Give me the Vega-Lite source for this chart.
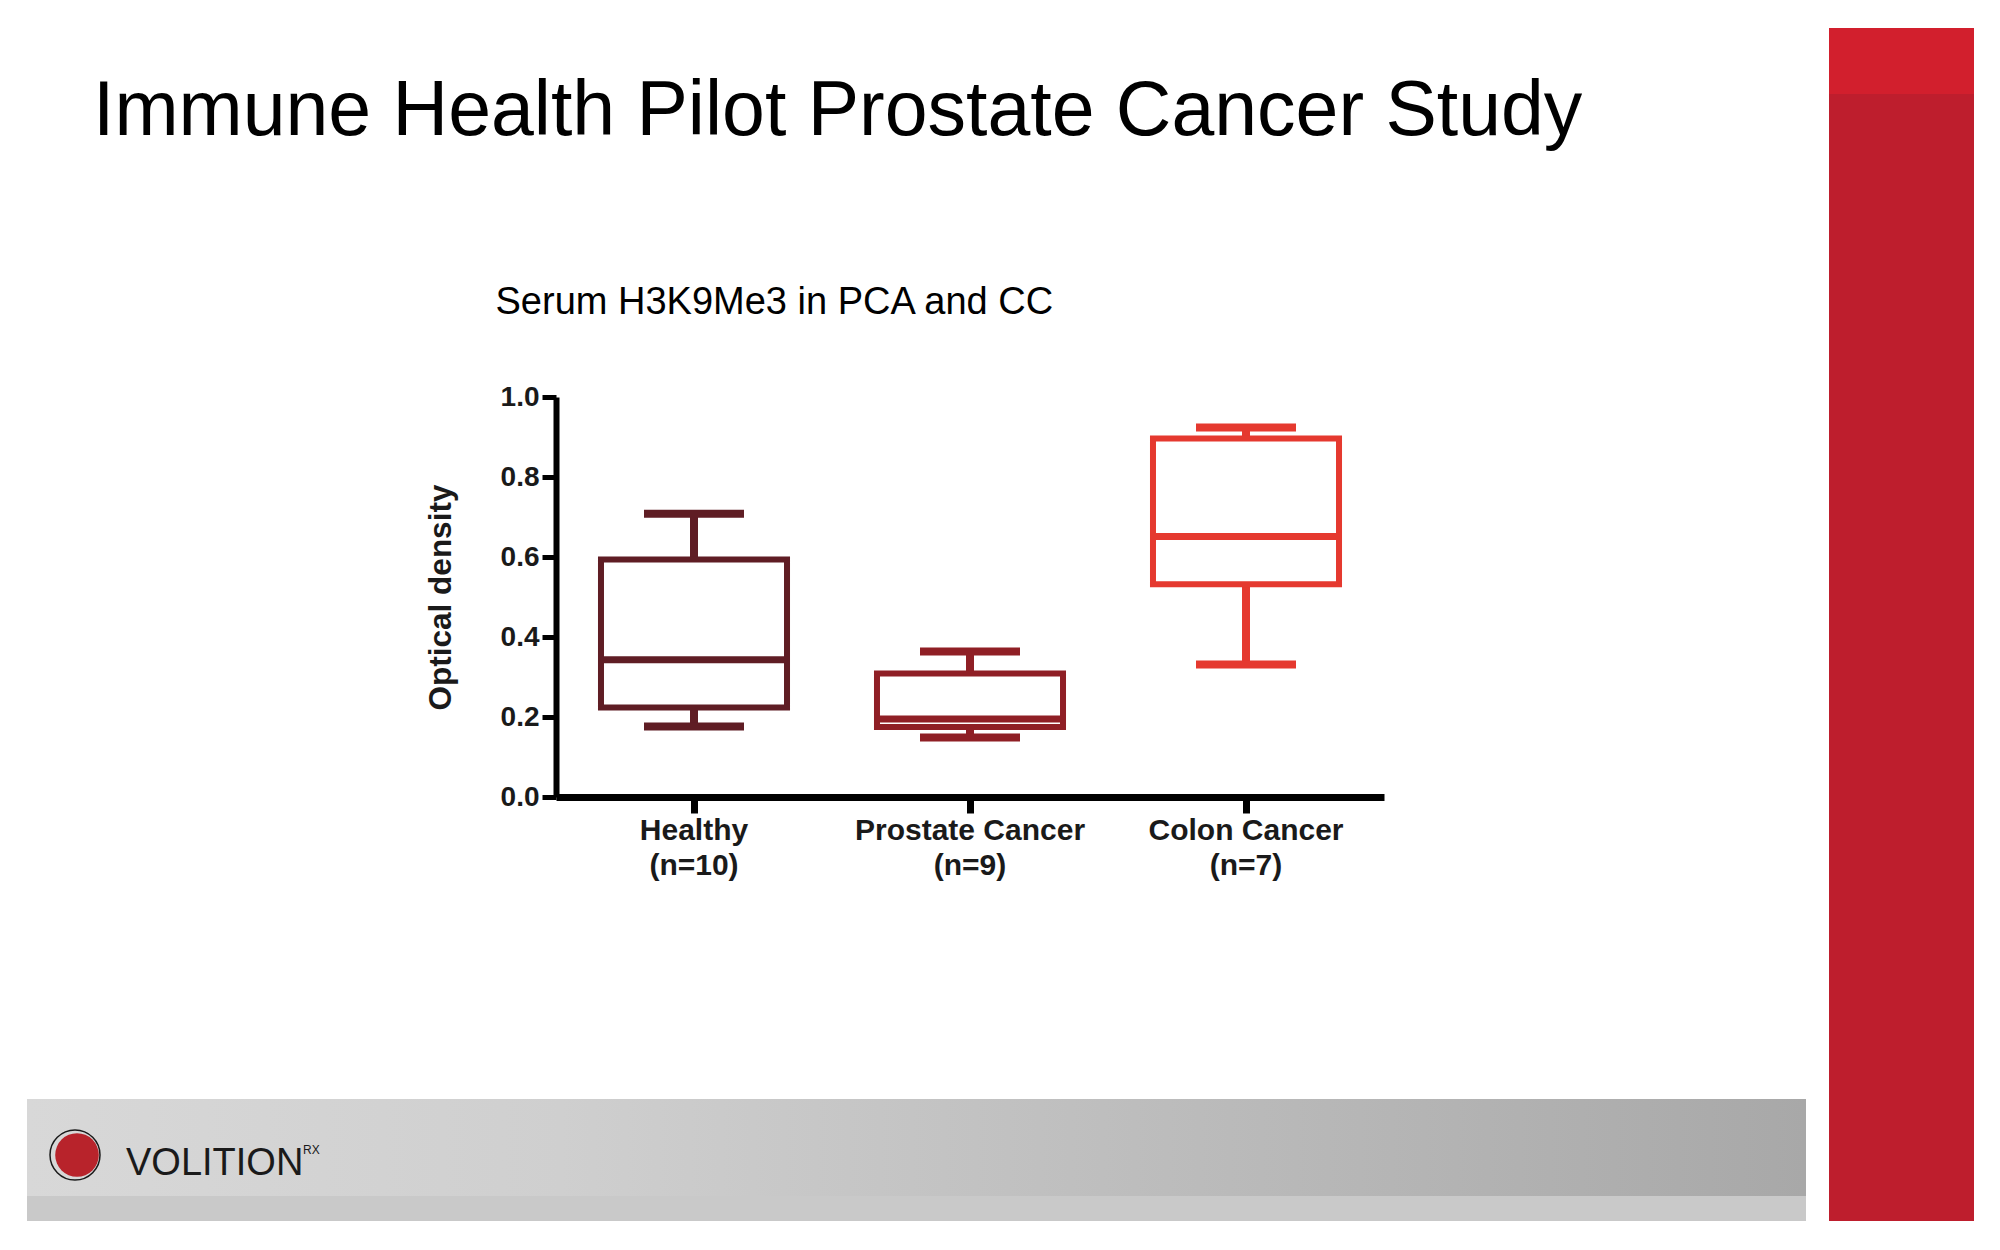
{
  "$schema": "https://vega.github.io/schema/vega-lite/v6.json",
  "width": 828,
  "height": 400,
  "autosize": {"type": "none"},
  "padding": {"left": 556, "top": 397, "right": 616, "bottom": 453},
  "background": "white",
  "title": {
    "text": "Immune Health Pilot Prostate Cancer Study",
    "anchor": "start",
    "frame": "group",
    "font": "Liberation Sans",
    "fontSize": 77,
    "fontWeight": "normal",
    "color": "#000000",
    "baseline": "alphabetic",
    "offset": 0,
    "dx": -463,
    "dy": 184
  },
  "data": {
    "values": [
      {"group": "Healthy (n=10)", "min": 0.176, "q1": 0.224, "median": 0.343, "q3": 0.594, "max": 0.708},
      {"group": "Prostate Cancer (n=9)", "min": 0.149, "q1": 0.175, "median": 0.195, "q3": 0.309, "max": 0.364},
      {"group": "Colon Cancer (n=7)", "min": 0.331, "q1": 0.532, "median": 0.651, "q3": 0.896, "max": 0.924}
    ]
  },
  "layer": [
    {
      "data": {"values": [{}]},
      "mark": {"type": "rect", "fill": "#be1e2d"},
      "encoding": {"x": {"value": 1273}, "x2": {"value": 1418}, "y": {"value": -369}, "y2": {"value": 824}}
    },
    {
      "data": {"values": [{}]},
      "mark": {"type": "rect", "fill": "#d21f2d"},
      "encoding": {"x": {"value": 1273}, "x2": {"value": 1418}, "y": {"value": -369}, "y2": {"value": -303}}
    },
    {
      "data": {"values": [{}]},
      "mark": {
        "type": "rect",
        "fill": {"gradient": "linear", "x1": 0, "x2": 1, "y1": 0, "y2": 0, "stops": [{"offset": 0, "color": "#d8d8d8"}, {"offset": 0.3, "color": "#cfcfcf"}, {"offset": 1, "color": "#a8a8a8"}]}
      },
      "encoding": {"x": {"value": -529}, "x2": {"value": 1250}, "y": {"value": 702}, "y2": {"value": 799}}
    },
    {
      "data": {"values": [{}]},
      "mark": {"type": "rect", "fill": "#c9c9c9"},
      "encoding": {"x": {"value": -529}, "x2": {"value": 1250}, "y": {"value": 799}, "y2": {"value": 824}}
    },
    {
      "data": {"values": [{}]},
      "mark": {"type": "point", "shape": "circle", "filled": true, "size": 1900, "fill": "#b8232b", "opacity": 1},
      "encoding": {"x": {"value": -479}, "y": {"value": 758}}
    },
    {
      "data": {"values": [{}]},
      "mark": {"type": "point", "shape": "circle", "filled": false, "size": 2500, "stroke": "#1a1a1a", "strokeWidth": 1.5, "opacity": 1},
      "encoding": {"x": {"value": -481}, "y": {"value": 758}}
    },
    {
      "data": {"values": [{"t": "VOLITION"}]},
      "mark": {"type": "text", "font": "Liberation Sans", "fontSize": 38, "fontWeight": 300, "align": "left", "baseline": "alphabetic", "color": "#1a1a1a"},
      "encoding": {"x": {"value": -430}, "y": {"value": 778}, "text": {"field": "t"}}
    },
    {
      "data": {"values": [{"t": "RX"}]},
      "mark": {"type": "text", "font": "Liberation Sans", "fontSize": 12, "align": "left", "baseline": "alphabetic", "color": "#1a1a1a"},
      "encoding": {"x": {"value": -253}, "y": {"value": 757}, "text": {"field": "t"}}
    },
    {
      "mark": {"type": "rule", "strokeWidth": 8},
      "encoding": {
        "x": {"field": "group", "type": "nominal", "sort": null, "scale": {"paddingInner": 0, "paddingOuter": 0},
          "axis": {
            "orient": "bottom",
            "title": null,
            "labelAngle": 0,
            "labelLimit": 500,
            "labelExpr": "[slice(datum.label, 0, indexof(datum.label, ' (')), slice(datum.label, indexof(datum.label, ' (') + 1)]",
            "labelFont": "Liberation Sans",
            "labelFontWeight": "bold",
            "labelFontSize": 30,
            "labelColor": "#1a1a1a",
            "labelLineHeight": 35,
            "labelPadding": 2,
            "labelBaseline": "top",
            "tickSize": 16,
            "tickWidth": 7,
            "tickColor": "#000000",
            "domainColor": "#000000",
            "domainWidth": 7,
            "grid": false
          }
        },
        "y": {"field": "min", "type": "quantitative", "scale": {"domain": [0, 1], "nice": false, "zero": true},
          "axis": {
            "title": "Optical density",
            "titleFont": "Liberation Sans",
            "titleFontWeight": "bold",
            "titleFontSize": 31.5,
            "titleColor": "#1a1a1a",
            "titlePadding": 43,
            "values": [0, 0.2, 0.4, 0.6, 0.8, 1.0],
            "format": ".1f",
            "labelFont": "Liberation Sans",
            "labelFontWeight": "bold",
            "labelFontSize": 28,
            "labelColor": "#1a1a1a",
            "labelPadding": 3,
            "tickSize": 14,
            "tickWidth": 5,
            "tickColor": "#000000",
            "domainColor": "#000000",
            "domainWidth": 6,
            "grid": false
          }
        },
        "y2": {"field": "max"},
        "color": {"field": "group", "type": "nominal", "scale": {"domain": ["Healthy (n=10)", "Prostate Cancer (n=9)", "Colon Cancer (n=7)"], "range": ["#5f1d24", "#8f1f25", "#e5392f"]}, "legend": null}
      }
    },
    {
      "mark": {"type": "bar", "fill": "#ffffff", "strokeWidth": 6, "width": {"band": 0.674}},
      "encoding": {
        "x": {"field": "group", "type": "nominal", "sort": null, "axis": null},
        "y": {"field": "q1", "type": "quantitative"},
        "y2": {"field": "q3"},
        "stroke": {"field": "group", "type": "nominal", "scale": {"domain": ["Healthy (n=10)", "Prostate Cancer (n=9)", "Colon Cancer (n=7)"], "range": ["#5f1d24", "#8f1f25", "#e5392f"]}, "legend": null}
      }
    },
    {
      "mark": {"type": "tick", "size": 186, "thickness": 7, "opacity": 1},
      "encoding": {
        "x": {"field": "group", "type": "nominal", "sort": null,
          "axis": {
            "orient": "top",
            "labels": false,
            "ticks": false,
            "domain": false,
            "grid": false,
            "title": "Serum H3K9Me3 in PCA and CC",
            "titleFont": "Liberation Sans",
            "titleFontSize": 38,
            "titleFontWeight": "normal",
            "titleColor": "#000000",
            "titleAnchor": "start",
            "titleAlign": "left",
            "titleBaseline": "alphabetic",
            "titleX": -61,
            "titleY": -84
          }
        },
        "y": {"field": "median", "type": "quantitative"},
        "color": {"field": "group", "type": "nominal", "legend": null}
      }
    },
    {
      "mark": {"type": "tick", "size": 100, "thickness": 8, "opacity": 1},
      "encoding": {
        "x": {"field": "group", "type": "nominal", "sort": null, "axis": null},
        "y": {"field": "max", "type": "quantitative"},
        "color": {"field": "group", "type": "nominal", "legend": null}
      }
    },
    {
      "mark": {"type": "tick", "size": 100, "thickness": 8, "opacity": 1},
      "encoding": {
        "x": {"field": "group", "type": "nominal", "sort": null, "axis": null},
        "y": {"field": "min", "type": "quantitative"},
        "color": {"field": "group", "type": "nominal", "legend": null}
      }
    }
  ],
  "resolve": {"axis": {"x": "independent"}},
  "config": {"view": {"stroke": null}, "font": "Liberation Sans", "axis": {"grid": false}}
}
